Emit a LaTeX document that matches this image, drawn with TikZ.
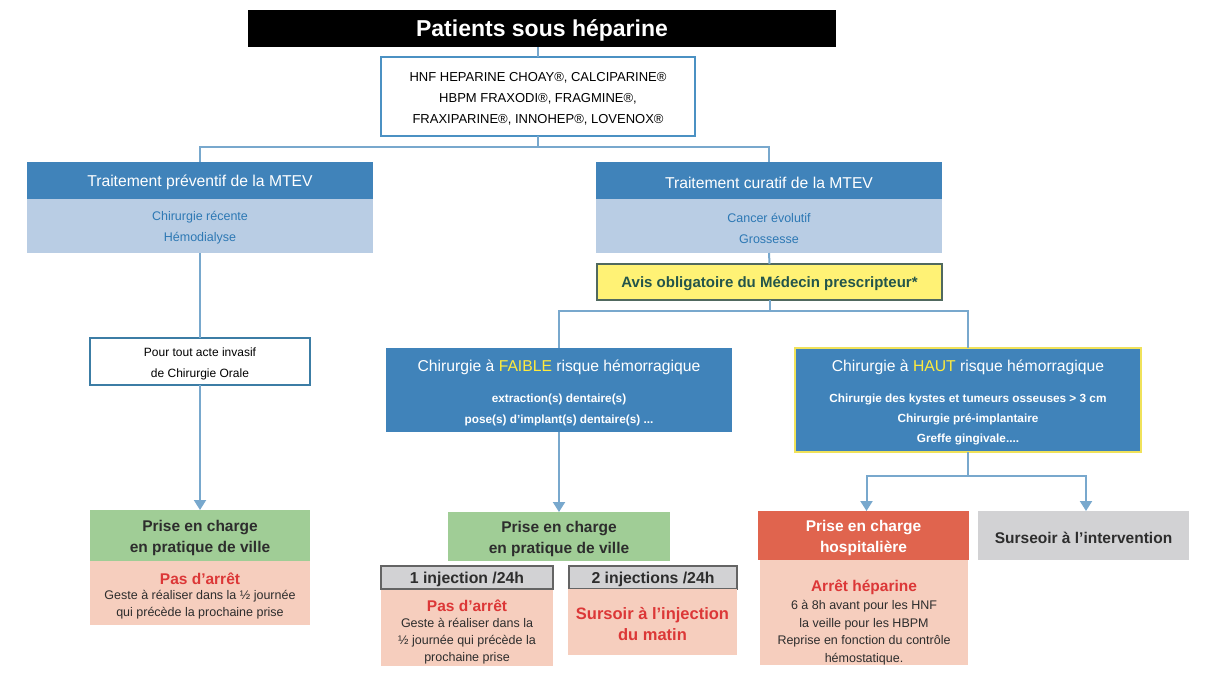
\documentclass[tikz,border=0pt]{standalone}
\usepackage{fontspec}
\setmainfont{Liberation Sans}
\usetikzlibrary{arrows.meta}
\definecolor{hdrblue}{RGB}{64,131,186}
\definecolor{lightblue}{RGB}{185,205,228}
\definecolor{bluetext}{RGB}{45,120,180}
\definecolor{linkblue}{RGB}{120,168,205}
\definecolor{drugborder}{RGB}{75,145,195}
\definecolor{pourborder}{RGB}{60,125,165}
\definecolor{yellowfill}{RGB}{255,242,117}
\definecolor{avisborder}{RGB}{80,105,95}
\definecolor{avistext}{RGB}{35,85,75}
\definecolor{yellowtxt}{RGB}{255,235,60}
\definecolor{hautborder}{RGB}{240,226,90}
\definecolor{greenfill}{RGB}{160,205,150}
\definecolor{pinkfill}{RGB}{246,206,190}
\definecolor{redtext}{RGB}{220,55,55}
\definecolor{redfill}{RGB}{224,100,78}
\definecolor{grayfill}{RGB}{210,210,212}
\definecolor{grayborder}{RGB}{100,100,100}
\definecolor{darktext}{RGB}{45,45,45}
\newcommand\fsz[2]{\fontsize{#1}{#2}\selectfont}
\begin{document}
\begin{tikzpicture}[x=1pt,y=-1pt,
  every node/.style={inner sep=0pt, outer sep=0pt},
  bx/.style 2 args={rectangle, minimum width=#1, minimum height=#2},
  tx/.style={align=center, yshift=-2pt},
  link/.style={draw=linkblue, line width=2pt},
  arr/.style={link, -{Triangle[width=12pt,length=10pt]}}]
\fill[white] (0,0) rectangle (1214,693);
\useasboundingbox (0,0) rectangle (1214,693);

% ---------- boxes ----------
\node[bx={588}{37}, fill=black] (title) at (542,28.5) {};
\node[bx={314}{79}, fill=white, draw=drugborder, line width=1.8pt] (drugs) at (538,96.5) {};
\node[bx={346}{37}, fill=hdrblue] (prevH) at (200,180.5) {};
\node[bx={346}{54}, fill=lightblue] (prevB) at (200,226) {};
\node[bx={346}{37}, fill=hdrblue] (curH) at (769,180.5) {};
\node[bx={346}{54}, fill=lightblue] (curB) at (769,226) {};
\node[bx={345}{36}, fill=yellowfill, draw=avisborder, line width=1.2pt] (avis) at (769.5,282) {};
\node[bx={220}{47}, fill=white, draw=pourborder, line width=1.8pt] (pour) at (200,361.5) {};
\node[bx={346}{84}, fill=hdrblue] (faible) at (559,390) {};
\node[bx={346}{104}, fill=hdrblue, draw=hautborder, line width=1.8pt] (haut) at (968,400) {};
\node[bx={220}{51}, fill=greenfill] (greenL) at (200,535.5) {};
\node[bx={220}{64}, fill=pinkfill] (pinkL) at (200,593) {};
\node[bx={222}{49}, fill=greenfill] (greenM) at (559,536.5) {};
\node[bx={172}{23}, fill=grayfill, draw=grayborder, line width=1.5pt] (inj1) at (467,577.5) {};
\node[bx={168}{23}, fill=grayfill, draw=grayborder, line width=1.5pt] (inj2) at (653,577.5) {};
\node[bx={172}{76}, fill=pinkfill] (pinkM1) at (467,627.5) {};
\node[bx={169}{66}, fill=pinkfill] (pinkM2) at (652.5,622) {};
\node[bx={211}{49}, fill=redfill] (redH) at (863.5,535.5) {};
\node[bx={208}{105}, fill=pinkfill] (pinkR) at (864,612.5) {};
\node[bx={211}{49}, fill=grayfill] (surseoir) at (1083.5,535.5) {};

% ---------- texts ----------
\node[tx, text=white, font=\bfseries\fsz{23}{27}] (titleT) at (title) {Patients sous héparine};
\node[tx, font=\fsz{13}{21}] (drugsT) at (drugs) {HNF HEPARINE CHOAY®, CALCIPARINE®\\HBPM FRAXODI®, FRAGMINE®,\\FRAXIPARINE®, INNOHEP®, LOVENOX®};
\node[tx, text=white, font=\fsz{15.7}{18}] (prevHT) at (prevH) {Traitement préventif de la MTEV};
\node[tx, text=bluetext, font=\fsz{12.5}{21}] (prevBT) at (prevB) {Chirurgie récente\\Hémodialyse};
\node[tx, text=white, font=\fsz{15.7}{18}] (curHT) at (curH) {Traitement curatif de la MTEV};
\node[tx, text=bluetext, font=\fsz{12.5}{21}] (curBT) at (curB) {Cancer évolutif\\Grossesse};
\node[tx, text=avistext, font=\bfseries\fsz{15}{18}] (avisT) at (avis) {Avis obligatoire du Médecin prescripteur*};
\node[tx, font=\fsz{12}{21}] (pourT) at (pour) {Pour tout acte invasif\\de Chirurgie Orale};

\node[tx, text=white, font=\fsz{15.7}{18}] (faibleT) at (559,365) {Chirurgie à \textcolor{yellowtxt}{FAIBLE} risque hémorragique};
\node[tx, text=white, font=\bfseries\fsz{11.8}{21}] (faibleB) at (559,407.5) {extraction(s) dentaire(s)\\pose(s) d’implant(s) dentaire(s) ...};
\node[tx, text=white, font=\fsz{15.7}{18}] (hautT) at (968,365) {Chirurgie à \textcolor{yellowtxt}{HAUT} risque hémorragique};
\node[tx, text=white, font=\bfseries\fsz{11.8}{20}] (hautB) at (968,417) {Chirurgie des kystes et tumeurs osseuses > 3 cm\\Chirurgie pré-implantaire\\Greffe gingivale....};

\node[tx, text=darktext, font=\bfseries\fsz{15.5}{21}] (greenLT) at (greenL) {Prise en charge\\en pratique de ville};
\node[tx, text=redtext, font=\bfseries\fsz{15.5}{18}] (pinkLT) at (200,577) {Pas d’arrêt};
\node[tx, text=darktext, font=\fsz{12.5}{17}] (pinkLB) at (200,603) {Geste à réaliser dans la ½ journée\\qui précède la prochaine prise};

\node[tx, text=darktext, font=\bfseries\fsz{15.5}{21}] (greenMT) at (greenM) {Prise en charge\\en pratique de ville};
\node[tx, text=darktext, font=\bfseries\fsz{15.8}{18}] (inj1T) at (inj1) {1 injection /24h};
\node[tx, text=darktext, font=\bfseries\fsz{15.8}{18}] (inj2T) at (inj2) {2 injections /24h};
\node[tx, text=redtext, font=\bfseries\fsz{15.5}{18}] (pinkM1T) at (467,604) {Pas d’arrêt};
\node[tx, text=darktext, font=\fsz{12.5}{17}] (pinkM1B) at (467,639.5) {Geste à réaliser dans la\\½ journée qui précède la\\prochaine prise};
\node[tx, text=redtext, font=\bfseries\fsz{16.5}{21}] (pinkM2T) at (pinkM2) {Sursoir à l’injection\\du matin};

\node[tx, text=white, font=\bfseries\fsz{15.5}{21}] (redHT) at (redH) {Prise en charge\\hospitalière};
\node[tx, text=redtext, font=\bfseries\fsz{15.5}{18}] (pinkRT) at (864,585) {Arrêt héparine};
\node[tx, text=darktext, font=\fsz{12.5}{17.5}] (pinkRB) at (864,630.5) {6 à 8h avant pour les HNF\\la veille pour les HBPM\\Reprise en fonction du contrôle\\hémostatique.};
\node[tx, text=darktext, font=\bfseries\fsz{15.5}{18}] (surseoirT) at (surseoir) {Surseoir à l’intervention};

% ---------- connectors ----------
\draw[link] (drugs.north) -- (drugs.north |- title.south);
\draw[link] (drugs.south) -- ++(0,11) coordinate (j1) -| (prevH.north);
\draw[link] (j1) -| (curH.north);
\draw[link] (prevB.south) -- (pour.north);
\draw[arr] (pour.south) -- (greenL.north);
\draw[link] (curB.south) -- (avis.north);
\draw[link] (avis.south) -- ++(0,11) coordinate (j2) -| (faible.north);
\draw[link] (j2) -| (haut.north);
\draw[arr] (faible.south) -- (greenM.north);
\draw[link] (haut.south) -- ++(0,24) coordinate (j3);
\draw[arr] (j3) -| ([xshift=3pt]redH.north);
\draw[arr] (j3) -| ([xshift=2.5pt]surseoir.north);
\end{tikzpicture}
\end{document}
